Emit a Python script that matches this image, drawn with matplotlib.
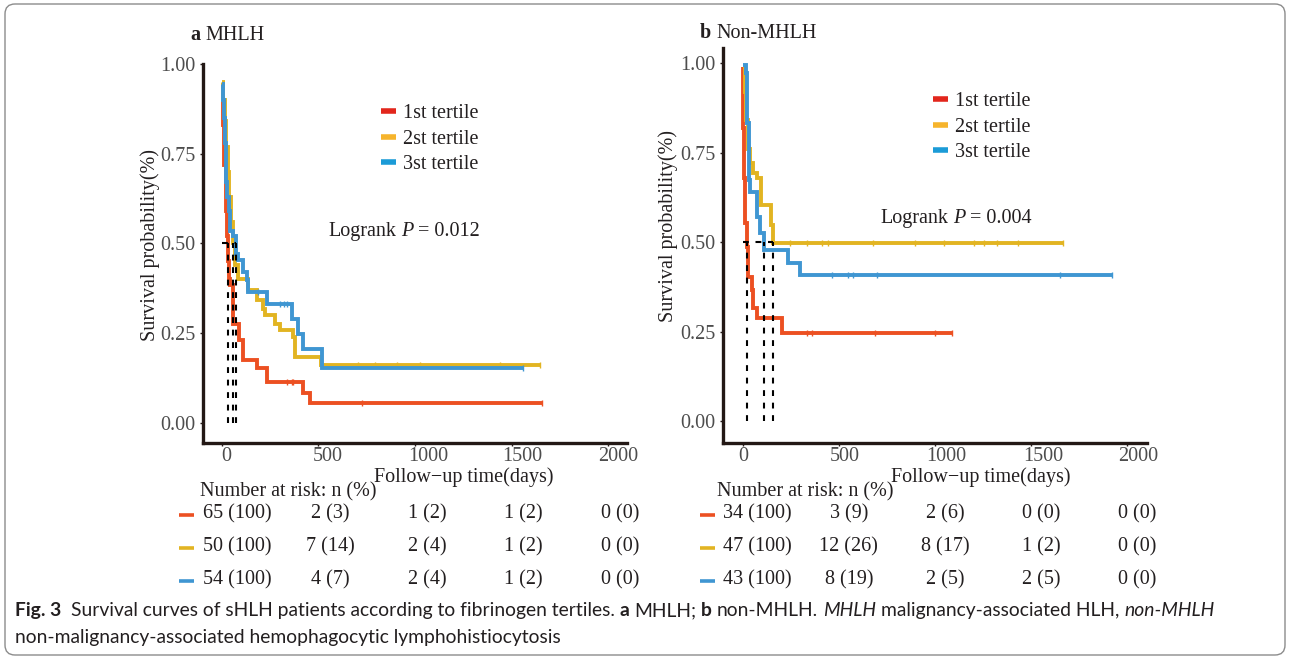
import matplotlib
matplotlib.use("Agg")
import matplotlib.pyplot as plt
import numpy as np
from matplotlib.lines import Line2D
from matplotlib.patches import FancyBboxPatch
from matplotlib import transforms as mtransforms

# ---------------- data ----------------
tertile_labels = ["1st tertile", "2st tertile", "3st tertile"]
x_ticks = [0, 500, 1000, 1500, 2000]
y_ticks = [0.00, 0.25, 0.50, 0.75, 1.00]
y_ticklabels = ["0.00", "0.25", "0.50", "0.75", "1.00"]

# Panel a: MHLH
a_red_t = [0, 6, 12, 20, 26, 34, 38, 43, 60, 91, 112, 181, 233, 420, 455, 1655]
a_red_s = [0.948, 0.83, 0.72, 0.59, 0.52, 0.45, 0.40, 0.383, 0.277, 0.23, 0.175, 0.152, 0.115, 0.083, 0.055, 0.055]
a_yel_t = [0, 8, 16, 24, 32, 40, 50, 60, 69, 86, 138, 181, 215, 224, 276, 302, 370, 379, 512, 1647]
a_yel_s = [0.95, 0.90, 0.84, 0.77, 0.70, 0.63, 0.56, 0.50, 0.44, 0.40, 0.37, 0.342, 0.318, 0.30, 0.277, 0.258, 0.24, 0.184, 0.161, 0.161]
a_blu_t = [0, 5, 10, 15, 20, 25, 30, 36, 43, 60, 74, 86, 112, 129, 138, 236, 365, 396, 422, 517, 1560]
a_blu_s = [0.945, 0.90, 0.85, 0.78, 0.72, 0.67, 0.63, 0.59, 0.536, 0.52, 0.47, 0.453, 0.42, 0.397, 0.365, 0.332, 0.29, 0.249, 0.207, 0.152, 0.152]
a_red_cens = [336, 362, 370, 724, 1655]
a_yel_cens = [707, 793, 905, 1026, 1440, 1647]
a_blu_cens = [188, 300, 320, 340, 1560]
a_medians = [34, 60, 74]
a_logrank = "0.012"
a_risk = [["65 (100)", "2 (3)", "1 (2)", "1 (2)", "0 (0)"],
          ["50 (100)", "7 (14)", "2 (4)", "1 (2)", "0 (0)"],
          ["54 (100)", "4 (7)", "2 (4)", "1 (2)", "0 (0)"]]

# Panel b: Non-MHLH
b_red_t = [0, 3, 8, 12, 24, 29, 47, 52, 73, 203, 1087]
b_red_s = [0.99, 0.82, 0.68, 0.553, 0.488, 0.404, 0.367, 0.316, 0.288, 0.246, 0.246]
b_yel_t = [0, 10, 20, 30, 38, 55, 73, 94, 150, 158, 1667]
b_yel_s = [0.99, 0.92, 0.84, 0.76, 0.72, 0.692, 0.678, 0.604, 0.548, 0.497, 0.497]
b_blu_t = [0, 17, 24, 34, 38, 76, 90, 111, 237, 298, 1919]
b_blu_s = [0.994, 0.971, 0.832, 0.674, 0.641, 0.571, 0.525, 0.478, 0.441, 0.409, 0.409]
b_red_cens = [333, 359, 688, 1000, 1087]
b_yel_cens = [246, 333, 411, 445, 679, 896, 1044, 1201, 1253, 1322, 1433, 1667]
b_blu_cens = [463, 549, 575, 697, 1650, 1919]
b_medians = [24, 111, 158]
b_logrank = "0.004"
b_risk = [["34 (100)", "3 (9)", "2 (6)", "0 (0)", "0 (0)"],
          ["47 (100)", "12 (26)", "8 (17)", "1 (2)", "0 (0)"],
          ["43 (100)", "8 (19)", "2 (5)", "2 (5)", "0 (0)"]]

# ---------------- style ----------------
W, H = 1290, 659
DPI = 100
SERIF = "Liberation Serif"
FS = 14.5
curve_colors = ["#EC5022", "#E2B422", "#3F96D2"]
legend_colors = ["#E2261C", "#F6B42C", "#1B9BD7"]
dark = "#231815"
txt = "#231F20"
grey = "#4D4D4D"

plt.rcParams["font.family"] = [SERIF, "DejaVu Serif"]

fig = plt.figure(figsize=(W / DPI, H / DPI), dpi=DPI)
renderer = fig.canvas.get_renderer()


def fx(x):
    return x / W


def fy(y):
    return 1 - y / H


def space_width(size, family, weight="normal", style="normal"):
    t1 = fig.text(0, 0, "x x", fontsize=size, family=family, fontweight=weight, fontstyle=style)
    t2 = fig.text(0, 0, "xx", fontsize=size, family=family, fontweight=weight, fontstyle=style)
    w = t1.get_window_extent(renderer).width - t2.get_window_extent(renderer).width
    t1.remove()
    t2.remove()
    return w


def draw_runs(x, y, runs, size, family, color, va="baseline"):
    """runs: list of (text, weight, style, gap_after_in_spaces)"""
    arts = []
    sp = space_width(size, family)
    for text, weight, style, gap in runs:
        t = fig.text(fx(x), fy(y), text, fontsize=size, family=family, fontweight=weight,
                     fontstyle=style, color=color, ha="left", va=va)
        arts.append(t)
        x += t.get_window_extent(renderer).width + gap * sp
    return arts, x


axA = fig.add_axes([fx(203.3), fy(442.7), (627 - 203.3) / W, (442.7 - 64) / H])
axB = fig.add_axes([fx(723), fy(443.3), (1146.7 - 723) / W, (443.3 - 48) / H])


def style_axes(ax, xlim, ylim, xoffs):
    ax.set_xlim(*xlim)
    ax.set_ylim(*ylim)
    for s in ["top", "right"]:
        ax.spines[s].set_visible(False)
    for s in ["left", "bottom"]:
        ax.spines[s].set_linewidth(2.4)
        ax.spines[s].set_color(dark)
    ax.set_xticks(x_ticks)
    ax.set_xticklabels([str(v) for v in x_ticks])
    ax.set_yticks(y_ticks)
    ax.set_yticklabels(y_ticklabels)
    ax.tick_params(axis="both", length=2.5, width=1, color=dark, labelsize=FS, labelcolor=grey)
    ax.tick_params(axis="x", pad=0.5)
    ax.tick_params(axis="y", pad=3)
    ax.patch.set_visible(False)
    for lab, xo in zip(ax.get_xticklabels(), xoffs):
        off = mtransforms.ScaledTranslation(xo / DPI, 0, fig.dpi_scale_trans)
        lab.set_transform(lab.get_transform() + off)


def step_value(t, s, c):
    idx = np.searchsorted(np.asarray(t), np.asarray(c), side="right") - 1
    return np.asarray(s)[idx]


def draw_km(ax, series, cens, medians):
    for (t, s), c, col in zip(series, cens, curve_colors):
        ax.step(t, s, where="post", color=col, lw=2.8, solid_joinstyle="miter", solid_capstyle="butt", zorder=3)
        ax.plot(c, step_value(t, s, c), ls="none", marker="|", ms=5, mew=1.0, color=col, zorder=3)
    for m in medians:
        ax.plot([m, m], [0, 0.5], color="black", lw=1.5, ls=(0, (2.8, 3.2)), zorder=5)
    ax.plot([0, max(medians)], [0.5, 0.5], color="black", lw=1.5, ls=(0, (2.8, 3.2)), zorder=5)


style_axes(axA, (-95, 2097), (-0.055, 0.997), [5, 9, 13, 11, 10])
style_axes(axB, (-102, 2100), (-0.061, 1.042), [1, 6, 11, 12, 11])

draw_km(axA, [(a_red_t, a_red_s), (a_yel_t, a_yel_s), (a_blu_t, a_blu_s)],
        [a_red_cens, a_yel_cens, a_blu_cens], a_medians)
draw_km(axB, [(b_red_t, b_red_s), (b_yel_t, b_yel_s), (b_blu_t, b_blu_s)],
        [b_red_cens, b_yel_cens, b_blu_cens], b_medians)

# legends
handles = [Line2D([], [], color=c, lw=4, solid_capstyle="butt") for c in legend_colors]
for ax, (lx, ly) in [(axA, (381, 104)), (axB, (933, 92))]:
    leg = ax.legend(handles, tertile_labels, loc="upper left", bbox_to_anchor=(fx(lx), fy(ly)),
                    bbox_transform=fig.transFigure, frameon=False, handlelength=0.75,
                    handletextpad=0.35, labelspacing=0.32, borderpad=0, borderaxespad=0,
                    fontsize=FS)
    for t in leg.get_texts():
        t.set_color(txt)

# titles
draw_runs(190, 40.5, [("a", "bold", "normal", 1), ("MHLH", "normal", "normal", 0)], FS, SERIF, txt)
draw_runs(700, 38.5, [("b", "bold", "normal", 1), ("Non-MHLH", "normal", "normal", 0)], FS, SERIF, txt)

# logrank texts
draw_runs(328, 236, [("Logrank", "normal", "normal", 1), ("P", "normal", "italic", 1),
                     ("= " + a_logrank, "normal", "normal", 0)], FS, SERIF, txt)
draw_runs(880, 223.3, [("Logrank", "normal", "normal", 1), ("P", "normal", "italic", 1),
                       ("= " + b_logrank, "normal", "normal", 0)], FS, SERIF, txt)

# axis labels
for xl, yc in [(150, 245), (668, 226)]:
    fig.text(fx(xl), fy(yc), "Survival probability(%)", rotation=90, ha="center", va="center",
             fontsize=FS, color=txt)
for xc in [464, 981]:
    fig.text(fx(xc), fy(481.7), "Follow\u2212up time(days)", ha="center", va="baseline",
             fontsize=FS, color=txt)

# number at risk tables
row_y = [514, 547, 580]
for ax, risk, hx, first_off, col_off in [(axA, a_risk, 200, 16, 12), (axB, b_risk, 717, 15, 10)]:
    fig.text(fx(hx), fy(496), "Number at risk: n (%)", ha="left", va="baseline", fontsize=FS, color=txt)
    blend = mtransforms.blended_transform_factory(ax.transData, fig.transFigure)
    x0_disp = ax.transData.transform((0, 0))[0]
    for r, (row, col) in enumerate(zip(risk, curve_colors)):
        for j, (xv, s) in enumerate(zip(x_ticks, row)):
            off = first_off if j == 0 else col_off
            tr = blend + mtransforms.ScaledTranslation(off / DPI, 0, fig.dpi_scale_trans)
            fig.text(xv, fy(row_y[r]), s, transform=tr, ha="center", va="center",
                     fontsize=FS, color=txt)
        fig.add_artist(Line2D([fx(x0_disp - 43), fx(x0_disp - 28)], [fy(row_y[r] + 1)] * 2,
                              color=col, lw=2.6, transform=fig.transFigure, solid_capstyle="butt"))

# caption
CAP_FONT = "Lato"


def caption(size):
    runs1 = [("Fig. 3", "bold", "normal", 2),
             ("Survival curves of sHLH patients according to fibrinogen tertiles.", "normal", "normal", 1),
             ("a", "bold", "normal", 1), ("MHLH;", "normal", "normal", 1),
             ("b", "bold", "normal", 1), ("non-MHLH.", "normal", "normal", 1),
             ("MHLH", "normal", "italic", 1), ("malignancy-associated HLH,", "normal", "normal", 1),
             ("non-MHLH", "normal", "italic", 0)]
    arts1, xend = draw_runs(15, 616, runs1, size, CAP_FONT, txt)
    arts2, _ = draw_runs(15, 643, [("non-malignancy-associated hemophagocytic lymphohistiocytosis",
                                     "normal", "normal", 0)], size, CAP_FONT, txt)
    return arts1 + arts2, xend


arts, xend = caption(12)
scale = (1215 - 15) / (xend - 15)
for a in arts:
    a.remove()
caption(12 * scale)

# frame
frame = FancyBboxPatch((5, 4), 1280, 651, boxstyle="round,pad=0,rounding_size=10",
                       transform=mtransforms.IdentityTransform(), fill=False,
                       edgecolor="#8C8C8C", lw=1.0)
fig.add_artist(frame)

fig.savefig("out.png", dpi=DPI)
